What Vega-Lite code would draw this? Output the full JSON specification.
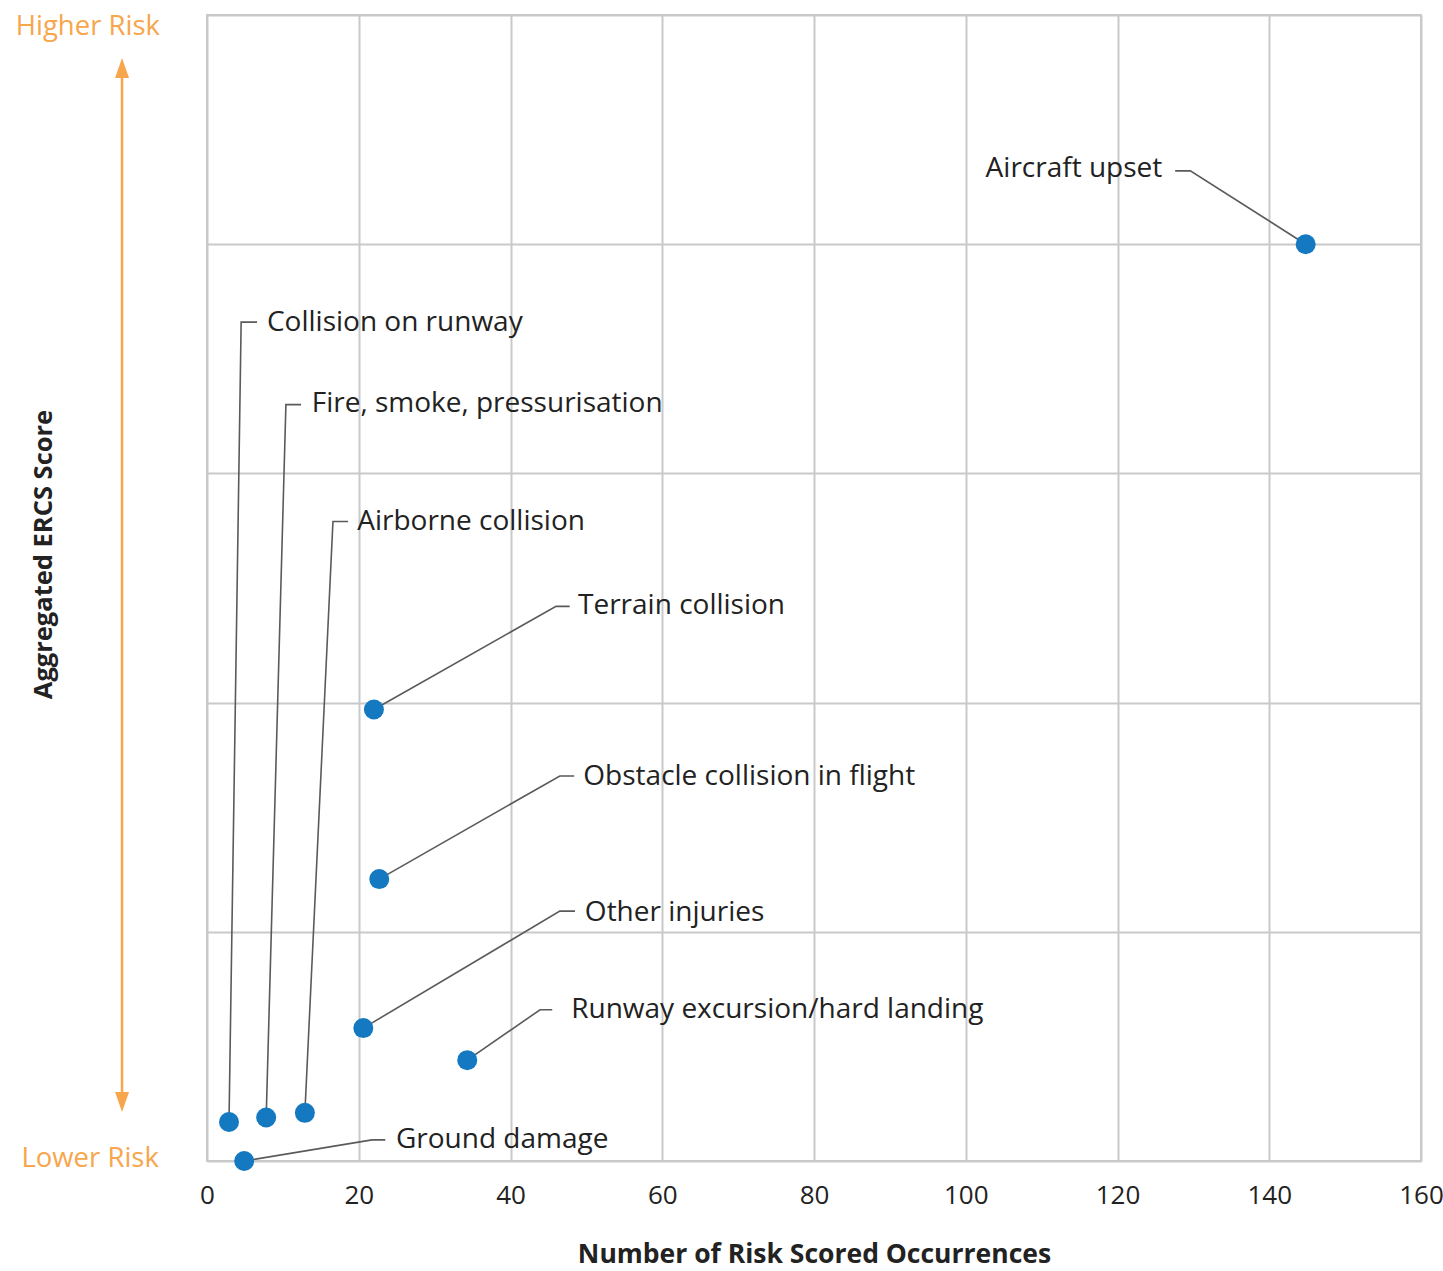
{
  "$schema": "https://vega.github.io/schema/vega-lite/v6.json",
  "width": 1214,
  "height": 1146,
  "autosize": {"type": "none"},
  "padding": {"left": 207, "top": 15, "right": 22, "bottom": 110},
  "background": "white",
  "config": {
    "view": {"stroke": "#c9c9cb", "strokeWidth": 2},
    "font": "Open Sans",
    "axis": {"gridColor": "#c9c9cb", "gridWidth": 2, "gridOpacity": 1}
  },
  "datasets": {
    "points": [
      {"event": "Aircraft upset", "n": 144.8, "score": 4.0},
      {"event": "Terrain collision", "n": 22.0, "score": 1.97},
      {"event": "Obstacle collision in flight", "n": 22.7, "score": 1.23},
      {"event": "Other injuries", "n": 20.6, "score": 0.58},
      {"event": "Runway excursion/hard landing", "n": 34.3, "score": 0.44},
      {"event": "Collision on runway", "n": 2.9, "score": 0.17},
      {"event": "Fire, smoke, pressurisation", "n": 7.8, "score": 0.19},
      {"event": "Airborne collision", "n": 12.9, "score": 0.21},
      {"event": "Ground damage", "n": 4.9, "score": 0.0}
    ],
    "leaders": [
      {"event": "Aircraft upset", "step": 1, "n": 144.8, "score": 4.0},
      {"event": "Aircraft upset", "step": 2, "n": 129.6, "score": 4.32},
      {"event": "Aircraft upset", "step": 3, "n": 127.6, "score": 4.32},
      {"event": "Terrain collision", "step": 1, "n": 22.0, "score": 1.97},
      {"event": "Terrain collision", "step": 2, "n": 46.0, "score": 2.42},
      {"event": "Terrain collision", "step": 3, "n": 47.8, "score": 2.42},
      {"event": "Obstacle collision in flight", "step": 1, "n": 22.7, "score": 1.23},
      {"event": "Obstacle collision in flight", "step": 2, "n": 46.5, "score": 1.68},
      {"event": "Obstacle collision in flight", "step": 3, "n": 48.4, "score": 1.68},
      {"event": "Other injuries", "step": 1, "n": 20.6, "score": 0.58},
      {"event": "Other injuries", "step": 2, "n": 46.5, "score": 1.09},
      {"event": "Other injuries", "step": 3, "n": 48.5, "score": 1.09},
      {"event": "Runway excursion/hard landing", "step": 1, "n": 34.3, "score": 0.44},
      {"event": "Runway excursion/hard landing", "step": 2, "n": 43.9, "score": 0.66},
      {"event": "Runway excursion/hard landing", "step": 3, "n": 45.5, "score": 0.66},
      {"event": "Ground damage", "step": 1, "n": 4.9, "score": 0.0},
      {"event": "Ground damage", "step": 2, "n": 21.75, "score": 0.092},
      {"event": "Ground damage", "step": 3, "n": 23.5, "score": 0.092},
      {"event": "Collision on runway", "step": 1, "n": 2.9, "score": 0.17},
      {"event": "Collision on runway", "step": 2, "n": 4.5, "score": 3.66},
      {"event": "Collision on runway", "step": 3, "n": 6.6, "score": 3.66},
      {"event": "Fire, smoke, pressurisation", "step": 1, "n": 7.8, "score": 0.19},
      {"event": "Fire, smoke, pressurisation", "step": 2, "n": 10.4, "score": 3.3},
      {"event": "Fire, smoke, pressurisation", "step": 3, "n": 12.4, "score": 3.3},
      {"event": "Airborne collision", "step": 1, "n": 12.9, "score": 0.21},
      {"event": "Airborne collision", "step": 2, "n": 16.6, "score": 2.79},
      {"event": "Airborne collision", "step": 3, "n": 18.6, "score": 2.79}
    ],
    "labels": [
      {"event": "Aircraft upset", "n": 125.9, "score": 4.34, "side": "right"},
      {"event": "Terrain collision", "n": 48.9, "score": 2.43, "side": "left"},
      {"event": "Obstacle collision in flight", "n": 49.6, "score": 1.685, "side": "left"},
      {"event": "Other injuries", "n": 49.8, "score": 1.09, "side": "left"},
      {"event": "Runway excursion/hard landing", "n": 48.0, "score": 0.668, "side": "left"},
      {"event": "Ground damage", "n": 24.9, "score": 0.1, "side": "left"},
      {"event": "Collision on runway", "n": 7.9, "score": 3.665, "side": "left"},
      {"event": "Fire, smoke, pressurisation", "n": 13.8, "score": 3.31, "side": "left"},
      {"event": "Airborne collision", "n": 19.8, "score": 2.797, "side": "left"}
    ],
    "risk": [
      {"text": "Higher Risk", "n": -15.7, "score": 4.956},
      {"text": "Lower Risk", "n": -15.4, "score": 0.017}
    ],
    "arrow": [
      {"part": "top", "n": -11.2, "score": 4.769, "score2": 0.257},
      {"part": "bottom", "n": -11.2, "score": 0.257, "score2": 4.769}
    ]
  },
  "layer": [
    {
      "data": {"name": "points"},
      "mark": {"type": "point", "opacity": 0},
      "encoding": {
        "x": {
          "field": "n", "type": "quantitative",
          "scale": {"domain": [0, 160], "nice": false, "zero": false},
          "axis": {
            "values": [0, 20, 40, 60, 80, 100, 120, 140, 160],
            "title": "Number of Risk Scored Occurrences",
            "titleFont": "Open Sans", "titleFontSize": 26.5, "titleFontWeight": "bold",
            "titleColor": "#222222", "titleY": 93, "titleBaseline": "middle",
            "labelFont": "Open Sans", "labelFontSize": 26, "labelColor": "#222222",
            "labelPadding": 21, "ticks": false, "domain": false,
            "labelFlush": false
          }
        },
        "y": {
          "field": "score", "type": "quantitative",
          "scale": {"domain": [0, 5], "nice": false, "zero": false},
          "axis": {
            "values": [0, 1, 2, 3, 4, 5],
            "labels": false, "ticks": false, "domain": false,
            "title": "Aggregated ERCS Score",
            "titleFont": "Open Sans", "titleFontSize": 25.5, "titleFontWeight": "bold",
            "titleColor": "#222222", "titleX": -164, "titleY": 539,
            "titleAngle": -90, "titleAlign": "center", "titleBaseline": "middle"
          }
        }
      }
    },
    {
      "data": {"name": "leaders"},
      "mark": {"type": "line", "color": "#5a5a5a", "strokeWidth": 1.6},
      "encoding": {
        "x": {"field": "n", "type": "quantitative"},
        "y": {"field": "score", "type": "quantitative"},
        "detail": {"field": "event"},
        "order": {"field": "step", "type": "quantitative"}
      }
    },
    {
      "data": {"name": "points"},
      "mark": {"type": "circle", "color": "#1479c1", "opacity": 1, "size": 400, "clip": false},
      "encoding": {
        "x": {"field": "n", "type": "quantitative"},
        "y": {"field": "score", "type": "quantitative"}
      }
    },
    {
      "data": {"name": "labels"},
      "transform": [{"filter": "datum.side === 'left'"}],
      "mark": {"type": "text", "align": "left", "baseline": "middle", "dy": 2, "font": "Open Sans", "fontSize": 28, "color": "#222222"},
      "encoding": {
        "x": {"field": "n", "type": "quantitative"},
        "y": {"field": "score", "type": "quantitative"},
        "text": {"field": "event"}
      }
    },
    {
      "data": {"name": "labels"},
      "transform": [{"filter": "datum.side === 'right'"}],
      "mark": {"type": "text", "align": "right", "baseline": "middle", "dy": 3, "font": "Open Sans", "fontSize": 28, "color": "#222222"},
      "encoding": {
        "x": {"field": "n", "type": "quantitative"},
        "y": {"field": "score", "type": "quantitative"},
        "text": {"field": "event"}
      }
    },
    {
      "data": {"name": "risk"},
      "mark": {"type": "text", "align": "center", "baseline": "middle", "dy": 2, "font": "Open Sans", "fontSize": 27.5, "color": "#f7a64c"},
      "encoding": {
        "x": {"field": "n", "type": "quantitative"},
        "y": {"field": "score", "type": "quantitative"},
        "text": {"field": "text"}
      }
    },
    {
      "data": {"name": "arrow"},
      "transform": [{"filter": "datum.part === 'top'"}],
      "mark": {"type": "rule", "color": "#f7a64c", "strokeWidth": 2.5},
      "encoding": {
        "x": {"field": "n", "type": "quantitative"},
        "y": {"field": "score", "type": "quantitative"},
        "y2": {"field": "score2"}
      }
    },
    {
      "data": {"name": "arrow"},
      "mark": {"type": "point", "filled": true, "color": "#f7a64c", "opacity": 1, "size": 400},
      "encoding": {
        "x": {"field": "n", "type": "quantitative"},
        "y": {"field": "score", "type": "quantitative"},
        "shape": {
          "field": "part", "type": "nominal",
          "scale": {"domain": ["top", "bottom"], "range": ["M0,-1L0.7,1L-0.7,1Z", "M0,1L0.7,-1L-0.7,-1Z"]},
          "legend": null
        }
      }
    }
  ]
}
